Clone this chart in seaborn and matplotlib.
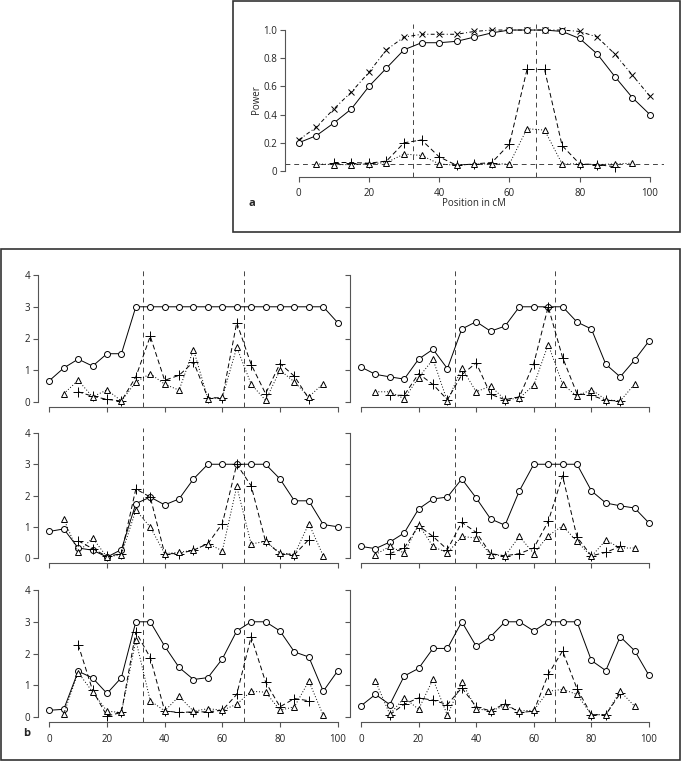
import numpy as np
import pandas as pd
import matplotlib
matplotlib.use("Agg")
import matplotlib.pyplot as plt
from matplotlib.patches import Rectangle
import seaborn as sns

# ---------- data ----------
pos_all = list(range(0, 101, 5))      # circles / crosses
pos_plus = list(range(10, 91, 5))     # plus series
pos_tri = list(range(5, 96, 5))       # triangle series

# panel a (power)
a_circle = [0.20, 0.25, 0.34, 0.44, 0.60, 0.73, 0.86, 0.91, 0.91, 0.92, 0.95,
            0.98, 1.00, 1.00, 1.00, 0.99, 0.94, 0.83, 0.67, 0.52, 0.40]
a_cross = [0.22, 0.31, 0.44, 0.56, 0.70, 0.86, 0.95, 0.97, 0.97, 0.97, 0.99,
           1.00, 1.00, 1.00, 1.00, 1.00, 0.99, 0.95, 0.83, 0.68, 0.53]
a_plus = [0.06, 0.06, 0.055, 0.07, 0.20, 0.22, 0.10, 0.04, 0.05, 0.06, 0.19,
          0.72, 0.72, 0.18, 0.05, 0.045, 0.03]
a_tri = [0.05, 0.045, 0.045, 0.05, 0.06, 0.12, 0.11, 0.05, 0.04, 0.05, 0.05,
         0.05, 0.30, 0.29, 0.05, 0.05, 0.045, 0.05, 0.055]

# panels b (six replicates, reading order)
b_circle = [
    [0.67, 1.07, 1.35, 1.13, 1.52, 1.52, 3.0, 3.0, 3.0, 3.0, 3.0,
     3.0, 3.0, 3.0, 3.0, 3.0, 3.0, 3.0, 3.0, 3.0, 2.5],
    [1.10, 0.87, 0.79, 0.72, 1.35, 1.66, 1.05, 2.30, 2.53, 2.23, 2.39,
     3.0, 3.0, 3.0, 3.0, 2.52, 2.30, 1.19, 0.79, 1.32, 1.92],
    [0.85, 0.93, 0.32, 0.25, 0.03, 0.27, 1.74, 1.95, 1.70, 1.89, 2.53,
     3.0, 3.0, 3.0, 3.0, 3.0, 2.53, 1.83, 1.83, 1.07, 1.00],
    [0.37, 0.30, 0.51, 0.80, 1.57, 1.89, 1.95, 2.53, 1.92, 1.25, 1.05,
     2.15, 3.0, 3.0, 3.0, 3.0, 2.15, 1.76, 1.67, 1.60, 1.12],
    [0.21, 0.24, 1.44, 1.23, 0.74, 1.24, 3.0, 3.0, 2.23, 1.56, 1.18,
     1.24, 1.83, 2.71, 3.0, 3.0, 2.71, 2.05, 1.89, 0.81, 1.45],
    [0.35, 0.71, 0.39, 1.29, 1.53, 2.16, 2.16, 3.0, 2.23, 2.53, 3.0,
     3.0, 2.71, 3.0, 3.0, 3.0, 1.78, 1.46, 2.53, 2.09, 1.31],
]
b_plus = [
    [0.32, 0.18, 0.08, 0.03, 0.79, 2.07, 0.68, 0.84, 1.26, 0.13, 0.13,
     2.50, 1.18, 0.26, 1.21, 0.81, 0.10],
    [0.21, 0.21, 0.89, 0.55, 0.07, 0.86, 1.23, 0.24, 0.07, 0.16, 1.21,
     3.0, 1.40, 0.26, 0.21, 0.05, 0.03],
    [0.55, 0.30, 0.05, 0.14, 2.21, 1.95, 0.14, 0.14, 0.25, 0.46, 1.10,
     3.0, 2.31, 0.53, 0.14, 0.11, 0.59],
    [0.14, 0.32, 1.03, 0.69, 0.27, 1.14, 0.82, 0.14, 0.07, 0.14, 0.32,
     1.17, 2.63, 0.67, 0.07, 0.18, 0.37],
    [2.28, 0.84, 0.03, 0.14, 2.68, 1.87, 0.19, 0.14, 0.16, 0.16, 0.21,
     0.71, 2.53, 1.10, 0.32, 0.58, 0.51],
    [0.07, 0.40, 0.60, 0.53, 0.39, 0.92, 0.32, 0.19, 0.42, 0.14, 0.18,
     1.34, 2.08, 0.89, 0.07, 0.07, 0.74],
]
b_tri = [
    [0.26, 0.68, 0.16, 0.38, 0.03, 0.63, 0.89, 0.56, 0.37, 1.65, 0.10,
     0.14, 1.72, 0.56, 0.05, 1.00, 0.63, 0.16, 0.58],
    [0.32, 0.32, 0.10, 0.77, 1.34, 0.02, 1.07, 0.32, 0.50, 0.07, 0.12,
     0.53, 1.81, 0.56, 0.18, 0.39, 0.07, 0.03, 0.56],
    [1.25, 0.18, 0.64, 0.03, 0.11, 1.53, 0.99, 0.14, 0.18, 0.25, 0.46,
     0.23, 2.29, 0.45, 0.53, 0.16, 0.11, 1.10, 0.07],
    [0.11, 0.37, 0.16, 1.07, 0.37, 0.16, 0.69, 0.64, 0.11, 0.07, 0.69,
     0.14, 0.71, 1.03, 0.53, 0.05, 0.57, 0.32, 0.32],
    [0.10, 1.40, 0.79, 0.18, 0.14, 2.42, 0.51, 0.19, 0.65, 0.18, 0.26,
     0.21, 0.40, 0.81, 0.78, 0.21, 0.32, 1.13, 0.05],
    [1.14, 0.08, 0.61, 0.24, 1.19, 0.05, 1.10, 0.26, 0.19, 0.35, 0.19,
     0.21, 0.81, 0.87, 0.71, 0.07, 0.07, 0.81, 0.34],
]
markers_cm = [32.5, 67.5]
alpha_level = 0.05

# ---------- style ----------
sns.set_theme(style="white")
plt.rcParams['font.family'] = ['Open Sans', 'DejaVu Sans']
plt.rcParams['font.size'] = 7

W, H = 681, 762
fig = plt.figure(figsize=(W / 100, H / 100), dpi=100)


def fx(px):
    return px / W


def fy(py):
    return 1 - py / H


def axes_px(left, top, right, bottom):
    return fig.add_axes([fx(left), fy(bottom), fx(right - left), (bottom - top) / H])


AX_COL = '#555555'
LW = 0.7


def style_axes(ax, ymax, yticks, ylabels, xlabels=True, show_ylabels=True):
    for s in ['top', 'right']:
        ax.spines[s].set_visible(False)
    for s in ['left', 'bottom']:
        ax.spines[s].set_color(AX_COL)
        ax.spines[s].set_linewidth(0.8)
    ax.spines['left'].set_bounds(0, ymax)
    ax.spines['bottom'].set_bounds(0, 100)
    ax.set_xlim(-4, 104)
    ax.set_ylim(-0.04 * ymax, 1.04 * ymax)
    ax.set_xticks(range(0, 101, 20))
    ax.set_yticks(yticks)
    ax.set_xticklabels([str(v) for v in range(0, 101, 20)] if xlabels else [])
    ax.set_yticklabels(ylabels if show_ylabels else [])
    ax.tick_params(axis='both', direction='out', length=3.5, width=0.8,
                   color=AX_COL, labelsize=7, labelcolor='#222222', pad=2,
                   left=True, bottom=True)
    ax.tick_params(axis='x', pad=5)
    ax.set_xlabel('')
    ax.set_ylabel('')
    ax.patch.set_alpha(0)
    for v in markers_cm:
        ax.axvline(v, color='#444444', lw=0.7, ls=(0, (5, 4)), zorder=1)


def draw(ax, x, y, marker, ls, ms, filled_white=True):
    df = pd.DataFrame({'x': x, 'y': y})
    sns.lineplot(data=df, x='x', y='y', ax=ax, color='black', lw=LW,
                 linestyle=ls, marker=marker, markersize=ms,
                 markeredgecolor='black', markeredgewidth=0.7,
                 markerfacecolor='white' if filled_white else 'black',
                 errorbar=None, sort=True, zorder=3)


DOTDASH = (0, (4, 2.5, 1, 2.5))
DASHED = (0, (5, 3))
DOTTED = (0, (1, 2))

# ---------- panel a ----------
ax_a = axes_px(284.6, 24.4, 664, 176.6)
ax_a.axhline(alpha_level, color='#444444', lw=0.7, ls=(0, (5, 4)), zorder=1)
draw(ax_a, pos_all, a_cross, 'x', DOTDASH, 4.5)
draw(ax_a, pos_all, a_circle, 'o', '-', 4.3)
draw(ax_a, pos_plus, a_plus, '+', DASHED, 6.5)
draw(ax_a, pos_tri, a_tri, '^', DOTTED, 5)
style_axes(ax_a, 1.0, [0, 0.2, 0.4, 0.6, 0.8, 1.0],
           ['0', '0.2', '0.4', '0.6', '0.8', '1.0'])
fig.text(fx(256), fy(100), 'Power', rotation=90, ha='center', va='center', fontsize=7)
fig.text(fx(474), fy(203), 'Position in cM', ha='center', va='center', fontsize=7)
fig.text(fx(252), fy(204), 'a', ha='center', va='center', fontsize=8, fontweight='bold')

# ---------- panels b ----------
cols = [(37.8, 349.2), (349.5, 660.5)]
rows = [(270, 407), (428, 563), (585, 722)]
for i in range(6):
    r, c = divmod(i, 2)
    ax = axes_px(cols[c][0], rows[r][0], cols[c][1], rows[r][1])
    draw(ax, pos_all, b_circle[i], 'o', '-', 4.3)
    draw(ax, pos_plus, b_plus[i], '+', DASHED, 6.5)
    draw(ax, pos_tri, b_tri[i], '^', DOTTED, 5)
    style_axes(ax, 4, [0, 1, 2, 3, 4], ['0', '1', '2', '3', '4'],
               xlabels=(r == 2), show_ylabels=(c == 0))
fig.text(fx(27), fy(734), 'b', ha='center', va='center', fontsize=8, fontweight='bold')

# ---------- frames ----------
fig.add_artist(Rectangle((fx(233), fy(232)), fx(680 - 233), (232 - 1) / H,
                         fill=False, ec='#333333', lw=1.2, transform=fig.transFigure))
fig.add_artist(Rectangle((fx(1), fy(760)), fx(680 - 1), (760 - 249) / H,
                         fill=False, ec='#333333', lw=1.2, transform=fig.transFigure))

fig.savefig('out.png', dpi=100)
